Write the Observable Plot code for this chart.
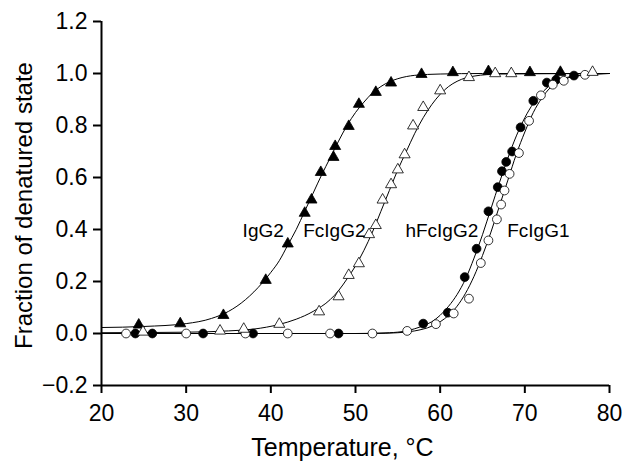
<!DOCTYPE html>
<html>
<head>
<meta charset="utf-8">
<script src="https://cdn.jsdelivr.net/npm/d3@7"></script>
<script src="https://cdn.jsdelivr.net/npm/@observablehq/plot@0.6"></script>
<style>
  html, body { margin: 0; padding: 0; background: #fff; }
  svg { display: block; }
</style>
</head>
<body>
<div id="chart"></div>
<script>
// Measured points (temperature °C, fraction denatured)
const igg2T = [24.4, 29.3, 34.4, 39.4, 42.0, 44.0, 44.8, 45.9, 47.4, 47.6, 49.2, 50.4, 52.4, 54.2, 57.8, 61.5, 65.7, 70.6, 74.2];
const igg2F = [0.033, 0.038, 0.07, 0.205, 0.345, 0.463, 0.514, 0.62, 0.678, 0.72, 0.797, 0.882, 0.928, 0.964, 0.997, 1.004, 1.008, 1.004, 1.005];

const fcigg2T = [24.9, 34.0, 36.8, 41.0, 45.7, 48.0, 49.2, 50.4, 51.6, 52.4, 53.2, 54.2, 55.0, 55.8, 56.8, 58.0, 60.0, 63.4, 66.5, 68.4, 78.0];
const fcigg2F = [0.006, 0.01, 0.017, 0.036, 0.084, 0.142, 0.224, 0.269, 0.381, 0.416, 0.514, 0.573, 0.63, 0.688, 0.799, 0.87, 0.934, 0.985, 1.0, 1.0, 1.005];

const hfcigg2T = [24.0, 26.0, 32.0, 37.9, 48.0, 58.0, 60.9, 62.9, 64.3, 65.7, 66.8, 67.3, 67.8, 68.5, 69.5, 71.0, 72.6, 73.7, 75.8];
const hfcigg2F = [0, 0, 0, 0, 0, 0.038, 0.08, 0.217, 0.326, 0.47, 0.563, 0.624, 0.66, 0.70, 0.793, 0.895, 0.965, 0.976, 0.992];

const fcigg1T = [22.9, 30.0, 37.0, 42.0, 47.0, 52.0, 56.1, 59.5, 61.6, 63.4, 64.8, 65.7, 66.7, 67.2, 67.6, 68.2, 69.3, 70.5, 71.9, 73.3, 74.6, 77.1];
const fcigg1F = [0, 0, 0, 0, 0, 0, 0.01, 0.036, 0.077, 0.134, 0.271, 0.358, 0.439, 0.496, 0.55, 0.614, 0.694, 0.818, 0.916, 0.957, 0.972, 0.995];

// Fitted curves
const igg2FitT = [20, 25, 30, 33, 35, 36, 37, 38, 39, 40, 41, 42, 43, 44, 45, 46, 47, 48, 49, 50, 51, 52, 53, 54, 55, 57, 60, 65, 80];
const igg2FitF = [0.023, 0.027, 0.038, 0.058, 0.085, 0.105, 0.13, 0.16, 0.195, 0.235, 0.28, 0.34, 0.40, 0.47, 0.54, 0.61, 0.675, 0.74, 0.80, 0.85, 0.89, 0.925, 0.95, 0.968, 0.98, 0.993, 0.998, 1.0, 1.0];

const fcigg2FitT = [20, 30, 35, 38, 41, 43, 45, 47, 48, 49, 50, 51, 52, 53, 54, 55, 56, 57, 58, 59, 60, 61, 62, 64, 67, 80];
const fcigg2FitF = [0.003, 0.005, 0.01, 0.017, 0.035, 0.055, 0.085, 0.13, 0.165, 0.21, 0.26, 0.32, 0.39, 0.47, 0.55, 0.63, 0.70, 0.77, 0.83, 0.88, 0.92, 0.95, 0.97, 0.99, 0.998, 1.0];

const hfcigg2FitT = [20, 50, 54, 56, 58, 59, 60, 61, 62, 63, 64, 65, 66, 67, 68, 69, 70, 71, 72, 73, 74, 75, 77, 80];
const hfcigg2FitF = [0, 0, 0.003, 0.01, 0.03, 0.045, 0.07, 0.105, 0.15, 0.21, 0.29, 0.38, 0.48, 0.58, 0.675, 0.76, 0.83, 0.885, 0.925, 0.955, 0.973, 0.985, 0.995, 1.0];

const fcigg1FitT = [20, 52, 55, 57, 59, 60, 61, 62, 63, 64, 65, 66, 67, 68, 69, 70, 71, 72, 73, 74, 75, 77, 80];
const fcigg1FitF = [0, 0, 0.003, 0.01, 0.028, 0.045, 0.07, 0.105, 0.155, 0.22, 0.30, 0.39, 0.49, 0.59, 0.69, 0.775, 0.85, 0.905, 0.945, 0.968, 0.982, 0.994, 1.0];

// Series labels
const labelNames = ["IgG2", "FcIgG2", "hFcIgG2", "FcIgG1"];
const labelT = [39.1, 47.5, 60.2, 71.6];
const labelF = [0.395, 0.395, 0.395, 0.395];

const xTicks = [20, 30, 40, 50, 60, 70, 80];
const yTicks = [-0.2, 0, 0.2, 0.4, 0.6, 0.8, 1.0, 1.2];

const zip = (T, F) => T.map((t, i) => ({t, f: F[i]}));

const lineOpts = {x: "t", y: "f", stroke: "black", strokeWidth: 1, curve: "monotone-x"};

const chart = Plot.plot({
  width: 626,
  height: 468,
  marginLeft: 101,
  marginRight: 17,
  marginTop: 21,
  marginBottom: 83,
  style: {fontFamily: "Liberation Sans, Arial, Helvetica, sans-serif", background: "white", color: "black"},
  x: {domain: [20, 80]},
  y: {domain: [-0.2, 1.2]},
  marks: [
    Plot.axisX({ticks: xTicks, tickSize: 8, tickPadding: 11, fontSize: 23, strokeWidth: 2, label: null}),
    Plot.axisY({ticks: yTicks, tickSize: 8, tickPadding: 6, fontSize: 23, strokeWidth: 2, tickFormat: d3.format(".1f"), label: null}),
    Plot.ruleX([20], {y1: -0.2, y2: 1.2, stroke: "black", strokeWidth: 2}),
    Plot.ruleY([-0.2], {x1: 20, x2: 80, stroke: "black", strokeWidth: 2}),
    Plot.line(zip(igg2FitT, igg2FitF), lineOpts),
    Plot.line(zip(fcigg2FitT, fcigg2FitF), lineOpts),
    Plot.line(zip(hfcigg2FitT, hfcigg2FitF), lineOpts),
    Plot.line(zip(fcigg1FitT, fcigg1FitF), lineOpts),
    Plot.dot(zip(hfcigg2T, hfcigg2F), {x: "t", y: "f", r: 4.4, fill: "black", stroke: "black", strokeWidth: 0.8}),
    Plot.dot(zip(fcigg1T, fcigg1F), {x: "t", y: "f", r: 4.4, fill: "white", stroke: "black", strokeWidth: 0.8}),
    Plot.dot(zip(igg2T, igg2F), {x: "t", y: "f", symbol: "triangle", r: 4.1, fill: "black", stroke: "black", strokeWidth: 0.8}),
    Plot.dot(zip(fcigg2T, fcigg2F), {x: "t", y: "f", symbol: "triangle", r: 4.1, fill: "white", stroke: "black", strokeWidth: 0.8}),
    Plot.text(labelNames.map((n, i) => ({n, t: labelT[i], f: labelF[i]})), {x: "t", y: "f", text: "n", fontSize: 19, fill: "black"}),
    Plot.text(["Temperature, °C"], {frameAnchor: "bottom", textAnchor: "middle", lineAnchor: "middle", dx: -13, dy: 62, fontSize: 25, fill: "black"}),
    Plot.text(["Fraction of denatured state"], {frameAnchor: "left", textAnchor: "middle", lineAnchor: "middle", dx: -77, dy: 2, rotate: -90, fontSize: 24, fill: "black"})
  ]
});
document.getElementById("chart").appendChild(chart);
</script>
</body>
</html>
